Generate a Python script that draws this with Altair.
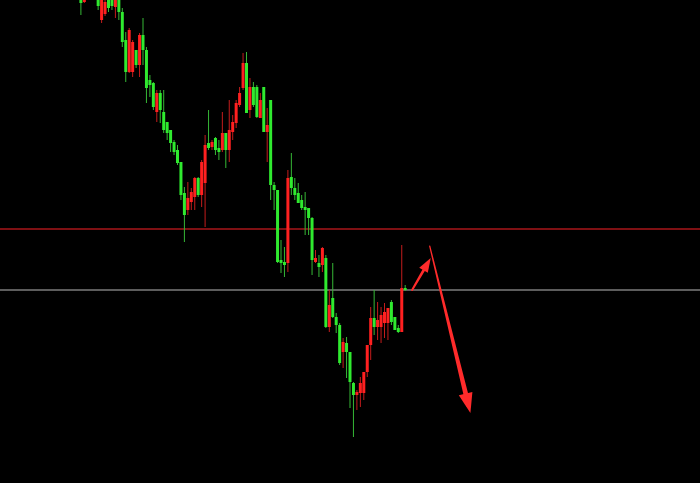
import math

import altair as alt
import numpy as np
import pandas as pd

# OHLC bars (price points), oldest first
opens = [505, 498, 505, 508, 502, 504, 480, 486, 500, 500,
         493, 500, 488, 460, 428, 428, 450, 435, 465, 450,
         420, 417, 388, 407, 388, 378, 370, 358, 350, 338,
         307, 290, 298, 303, 322, 305, 317, 357, 353, 362,
         352, 350, 367, 350, 368, 377, 395, 412, 437, 390,
         413, 413, 382, 413, 368, 400, 315, 310, 240, 238,
         237, 323, 312, 307, 300, 293, 292, 282, 238, 237,
         235, 242, 173, 202, 183, 175, 148, 157, 148, 117,
         105, 107, 107, 128, 155, 182, 173, 173, 177, 177,
         198, 183, 172, 168, 212]
closes = [497, 503, 510, 504, 506, 494, 502, 498, 492, 494,
          500, 488, 458, 428, 470, 458, 435, 465, 450, 412,
          415, 393, 407, 390, 370, 367, 357, 348, 337, 305,
          285, 302, 308, 322, 305, 338, 355, 352, 358, 350,
          348, 367, 350, 370, 378, 397, 407, 437, 387, 413,
          395, 383, 400, 368, 375, 315, 310, 238, 237, 235,
          322, 312, 305, 297, 292, 290, 282, 240, 242, 233,
          252, 173, 195, 183, 175, 137, 158, 148, 118, 105,
          108, 117, 128, 155, 182, 173, 180, 185, 188, 192,
          178, 170, 168, 212, 210]
highs = [510, 508, 512, 514, 510, 508, 506, 503, 504, 503,
         502, 503, 492, 468, 472, 460, 450, 467, 482, 453,
         425, 418, 410, 410, 410, 378, 370, 360, 355, 338,
         313, 318, 312, 323, 323, 340, 365, 390, 360, 363,
         360, 388, 367, 400, 385, 400, 413, 447, 448, 422,
         418, 415, 407, 413, 392, 400, 318, 310, 260, 253,
         330, 347, 322, 317, 305, 308, 292, 283, 250, 245,
         253, 245, 210, 237, 187, 177, 162, 163, 148, 118,
         110, 123, 128, 155, 193, 210, 198, 193, 197, 192,
         200, 183, 175, 255, 215]
lows = [485, 497, 503, 502, 501, 490, 477, 484, 488, 490,
        482, 480, 453, 418, 427, 423, 432, 423, 435, 397,
        403, 390, 378, 377, 367, 360, 348, 345, 335, 300,
        258, 285, 290, 290, 303, 293, 273, 350, 350, 345,
        340, 348, 332, 338, 360, 372, 393, 410, 387, 382,
        393, 382, 382, 368, 338, 300, 290, 237, 227, 223,
        228, 305, 300, 297, 290, 265, 265, 225, 237, 223,
        228, 172, 168, 182, 167, 135, 132, 122, 92, 63,
        90, 93, 100, 123, 140, 165, 160, 157, 162, 160,
        175, 170, 167, 168, 209]

# horizontal levels
resistance_level = [271]
pivot_level = [210]

# annotation arrows, tail -> tip, in (bar, price)
arrow_names = ["bounce", "drop"]
arrow_tail_bar = [96.0, 101.1]
arrow_tail_price = [210, 254]
arrow_tip_bar = [101.4, 112.9]
arrow_tip_price = [242, 87]
arrow_shaft_width = [[2.0, 3.0], [1.2, 5.0]]
arrow_head_size = [200, 400]
arrow_shaft_reach = [0.8, 0.95]

W, H = 700, 483
X_DOMAIN = [-22, 178]
Y_DOMAIN = [17, 500]
px_per_bar = W / (X_DOMAIN[1] - X_DOMAIN[0])
px_per_pt = H / (Y_DOMAIN[1] - Y_DOMAIN[0])

UP_BODY, DOWN_BODY = "#ff2020", "#2fea2f"
UP_WICK, DOWN_WICK = "#c41c1c", "#36b836"
ARROW_RED = "#ff2b2b"

candles = pd.DataFrame({
    "bar": np.arange(len(opens)),
    "open": opens, "close": closes, "high": highs, "low": lows,
})
candles["dir"] = np.where(candles["close"] >= candles["open"], "up", "down")

xs = alt.Scale(domain=X_DOMAIN, nice=False, zero=False)
ys = alt.Scale(domain=Y_DOMAIN, nice=False, zero=False)
X = alt.X("bar:Q", scale=xs, axis=None)

base = alt.Chart(candles)
wicks = base.mark_rule(strokeWidth=1, clip=True).encode(
    x=X,
    y=alt.Y("low:Q", scale=ys, axis=None),
    y2="high:Q",
    color=alt.Color("dir:N", scale=alt.Scale(domain=["up", "down"], range=[UP_WICK, DOWN_WICK]), legend=None),
)
bodies = base.mark_bar(size=3, clip=True).encode(
    x=X,
    y=alt.Y("open:Q", scale=ys, axis=None),
    y2="close:Q",
    color=alt.Color("dir:N", scale=alt.Scale(domain=["up", "down"], range=[UP_BODY, DOWN_BODY]), legend=None),
)

levels = pd.DataFrame({
    "price": resistance_level + pivot_level,
    "kind": ["resistance"] * len(resistance_level) + ["pivot"] * len(pivot_level),
})
level_rules = alt.Chart(levels).mark_rule(strokeWidth=1.6).encode(
    y=alt.Y("price:Q", scale=ys, axis=None),
    color=alt.Color("kind:N", scale=alt.Scale(domain=["resistance", "pivot"], range=["#a8161a", "#7c7c7c"]), legend=None),
)

# arrow shafts (tapered trails) and heads (custom triangles rotated along the shaft)
shaft_rows, head_rows = [], []
for k, name in enumerate(arrow_names):
    bx0, py0 = arrow_tail_bar[k], arrow_tail_price[k]
    bx1, py1 = arrow_tip_bar[k], arrow_tip_price[k]
    reach = arrow_shaft_reach[k]
    w0, w1 = arrow_shaft_width[k]
    shaft_rows.append({"arrow": name, "step": 0, "bar": bx0, "price": py0, "w": w0})
    shaft_rows.append({"arrow": name, "step": 1,
                       "bar": bx0 + (bx1 - bx0) * reach,
                       "price": py0 + (py1 - py0) * reach, "w": w1})
    dx = (bx1 - bx0) * px_per_bar
    dy = -(py1 - py0) * px_per_pt
    angle = math.degrees(math.atan2(dx, -dy)) % 360
    head_rows.append({"arrow": name, "bar": bx1, "price": py1,
                      "angle": angle, "size": arrow_head_size[k]})

shafts = alt.Chart(pd.DataFrame(shaft_rows)).mark_trail(color=ARROW_RED).encode(
    x=X,
    y=alt.Y("price:Q", scale=ys, axis=None),
    size=alt.Size("w:Q", scale=None, legend=None),
    detail="arrow:N",
    order="step:Q",
)
heads = alt.Chart(pd.DataFrame(head_rows)).mark_point(
    shape="M0,0L-0.7,2L0.7,2Z", filled=True, opacity=1, strokeWidth=0, color=ARROW_RED,
).encode(
    x=X,
    y=alt.Y("price:Q", scale=ys, axis=None),
    angle=alt.Angle("angle:Q", scale=None),
    size=alt.Size("size:Q", scale=None, legend=None),
)

chart = alt.layer(level_rules, wicks, bodies, shafts, heads).resolve_scale(
    color="independent"
).properties(
    width=W, height=H, background="#000000", padding=0,
    autosize=alt.AutoSizeParams(type="none"),
).configure_view(stroke=None)

chart.save("out.html", embed_options={"renderer": "svg", "actions": False})
